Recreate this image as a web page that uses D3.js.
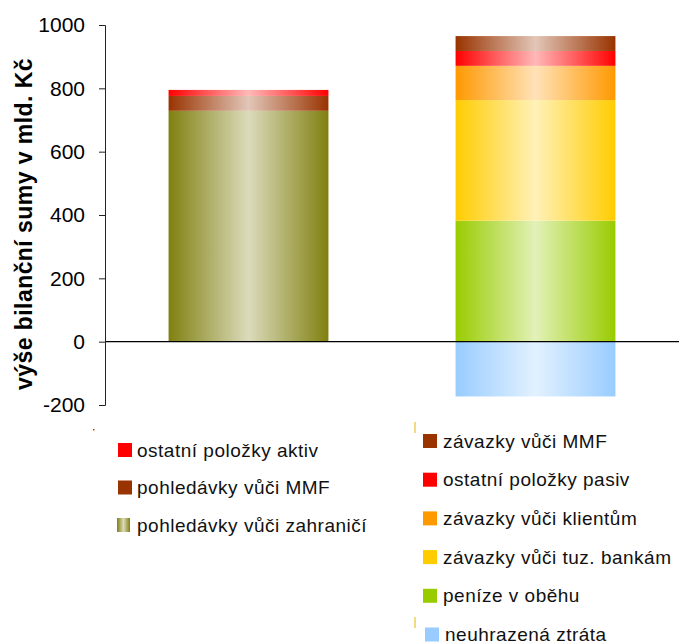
<!DOCTYPE html>
<html>
<head>
<meta charset="utf-8">
<script src="https://cdn.jsdelivr.net/npm/d3@7"></script>
<style>
    body { margin: 0; background: #fff; }
    svg text { font-family: "Liberation Sans", Arial, sans-serif; }
</style>
</head>
<body>
<svg id="viz" width="682" height="644"></svg>
<script>
// two columns: assets (left) and liabilities (right), no category labels shown
var categories = ["aktiva", "pasiva"];

// series in stacking order, values in bn CZK [aktiva, pasiva]
var seriesNames = [
    "pohledávky vůči zahraničí",
    "pohledávky vůči MMF",
    "ostatní položky aktiv",
    "neuhrazená ztráta",
    "peníze v oběhu",
    "závazky vůči tuz. bankám",
    "závazky vůči klientům",
    "ostatní položky pasiv",
    "závazky vůči MMF"
];
var seriesValues = [
    [729, 0],
    [47, 0],
    [19, 0],
    [0, -173],
    [0, 382],
    [0, 381],
    [0, 108],
    [0, 47],
    [0, 47]
];
var seriesColors = ["#808010", "#993300", "#ff0000", "#99ccff", "#99cc00", "#ffcc00", "#ff9900", "#ff0000", "#993300"];

var yTicks = [-200, 0, 200, 400, 600, 800, 1000];
var yTitle = "výše bilanční sumy v mld. Kč";

// legend columns (indexes into seriesNames), top to bottom
var legendLeft = [2, 1, 0];
var legendRight = [8, 7, 6, 5, 4, 3];

window.addEventListener("load", run);

function run() {
    var svg = d3.select("#viz");
    var font = "'Liberation Sans', Arial, sans-serif";

    var x = d3.scaleBand()
        .domain(categories)
        .range([105, 679])
        .paddingInner(0.443)
        .paddingOuter(0.2215);

    var y = d3.scaleLinear()
        .domain([-200, 1000])
        .range([405, 25]);

    var rows = categories.map(function (c, ci) {
        var row = { category: c };
        seriesNames.forEach(function (s, si) {
            row[s] = seriesValues[si][ci];
        });
        return row;
    });

    var stacked = d3.stack()
        .keys(seriesNames)
        .offset(d3.stackOffsetDiverging)(rows);

    // horizontal "cylinder" gradients, dark at the edges and pale in the middle
    var defs = svg.append("defs");
    seriesColors.forEach(function (col, i) {
        var light = d3.interpolateRgb(col, "#ffffff")(0.72);
        var g = defs.append("linearGradient")
            .attr("id", "grad" + i)
            .attr("x1", "0").attr("x2", "1")
            .attr("y1", "0").attr("y2", "0");
        g.append("stop").attr("offset", "0").attr("stop-color", col);
        g.append("stop").attr("offset", "0.5").attr("stop-color", light);
        g.append("stop").attr("offset", "1").attr("stop-color", col);
    });

    stacked.forEach(function (layer, i) {
        layer.forEach(function (d) {
            if (d[1] - d[0] === 0) return;
            svg.append("rect")
                .attr("x", x(d.data.category))
                .attr("width", x.bandwidth())
                .attr("y", y(Math.max(d[0], d[1])))
                .attr("height", Math.abs(y(d[0]) - y(d[1])))
                .style("fill", "url(#grad" + i + ")");
        });
    });

    // zero line
    svg.append("line")
        .attr("x1", 105).attr("x2", 679)
        .attr("y1", y(0)).attr("y2", y(0))
        .style("stroke", "#000")
        .style("stroke-width", "1.3px");

    var axis = svg.append("g")
        .attr("transform", "translate(105,0)")
        .call(d3.axisLeft(y)
            .tickValues(yTicks)
            .tickFormat(function (d) { return String(d); })
            .tickSize(6)
            .tickPadding(14));
    axis.selectAll("text")
        .attr("font-family", font)
        .attr("font-size", "21px")
        .style("fill", "#000");
    axis.selectAll("line, path").style("stroke", "#222");

    svg.append("text")
        .attr("transform", "translate(32,224) rotate(-90)")
        .attr("font-family", font)
        .style("text-anchor", "middle")
        .style("font-size", "23px")
        .style("letter-spacing", "0.45px")
        .style("font-weight", "bold")
        .style("fill", "#000")
        .text(yTitle);

    // legends
    var legend = function (list, mx, tx, y0, step) {
        list.forEach(function (si, k) {
            var cy = y0 + k * step;
            var isGrad = si === 0;
            var shift = si === 3 ? 2 : 0; // last entry sits a bit to the right
            svg.append("rect")
                .attr("x", mx + shift + (isGrad ? -1 : 0))
                .attr("y", cy - 7)
                .attr("width", isGrad ? 13 : 14)
                .attr("height", 14)
                .style("fill", isGrad ? "url(#grad0)" : seriesColors[si]);
            svg.append("text")
                .attr("x", tx + shift)
                .attr("y", cy)
                .attr("dy", "0.35em")
                .attr("font-family", font)
                .style("font-size", "19px")
                .style("letter-spacing", "0.5px")
                .style("fill", "#111")
                .text(seriesNames[si]);
        });
    };
    legend(legendLeft, 118, 137, 450, 37.5);
    legend(legendRight, 423, 443, 441, 38.7);

    // small stray marks left by the original legend boxes
    svg.append("rect").attr("x", 93).attr("y", 429).attr("width", 1.5).attr("height", 1.5).style("fill", "#b04000");
    [422, 617].forEach(function (yy) {
        svg.append("line")
            .attr("x1", 415).attr("x2", 415)
            .attr("y1", yy).attr("y2", yy + 11)
            .style("stroke", "#e8b400")
            .style("stroke-width", "1px");
    });
}
</script>
</body>
</html>
